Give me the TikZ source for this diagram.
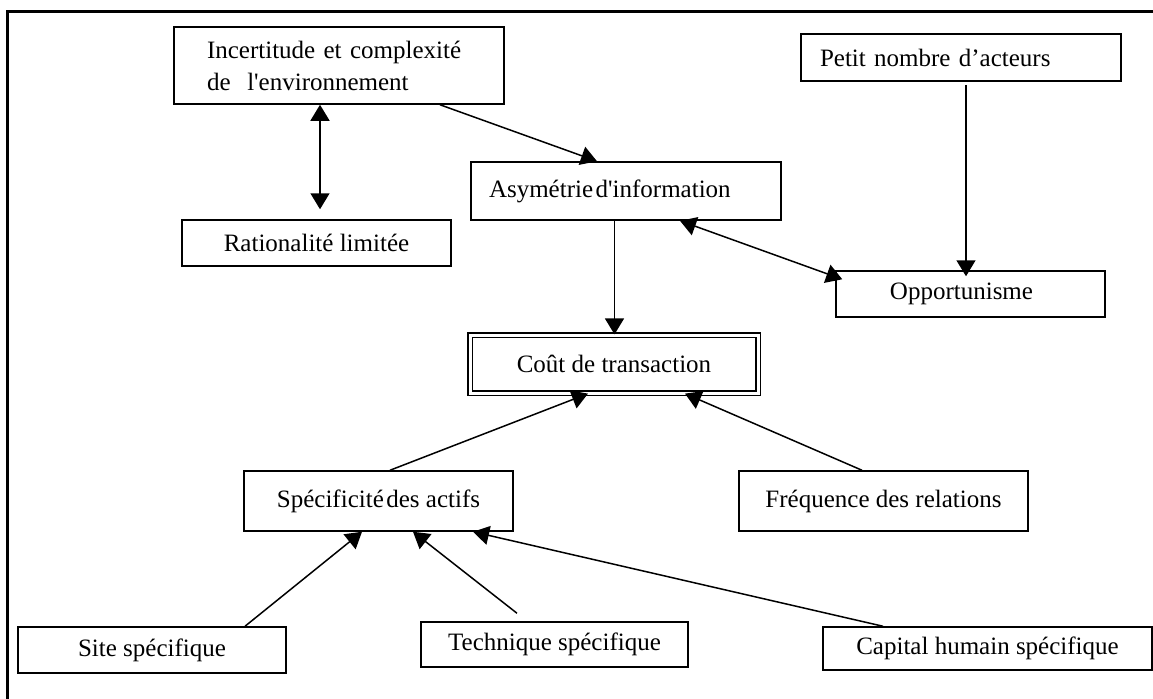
\documentclass[tikz,border=0pt]{standalone}
\usepackage{fontspec}
\setmainfont{Liberation Serif}[Ligatures=TeXOff]
\usetikzlibrary{arrows.meta}
\begin{document}
\begin{tikzpicture}[x=0.5pt, y=-0.5pt,
  font=\fontsize{12.5}{16}\selectfont,
  box/.style={draw, line width=0.75pt, inner sep=0pt, align=center},
  lbox/.style={box, align=left},
  tip/.tip={Triangle[length=8pt,width=9.5pt]},
  conn/.style={line width=0.75pt, -tip},
  bconn/.style={line width=0.75pt, tip-tip}]
\useasboundingbox (0,0) rectangle (1153,698);
\clip (0,0) rectangle (1153,698);
% outer frame (top and left edges visible)
\draw[line width=1.5pt] (1160,11) -- (7,11) -- (7,705);

% nodes
\node[lbox, text width=132pt, inner xsep=16.5pt, minimum height=38.5pt] (inc) at (339,65.5)
  {Incertitude et complexité\\de\ \ l'environnement};
\node[box, minimum width=134.5pt, minimum height=23pt] (rat) at (316.5,243) {Rationalité limitée};
\node[lbox, text width=137pt, inner xsep=9pt, minimum height=29pt] (asy) at (626,191)
  {Asymétrie\hspace{0.1em}d'information};
\node[lbox, text width=141pt, inner xsep=9.5pt, minimum height=23.5pt] (pet) at (961,57.5)
  {Petit nombre d’acteurs};
\node[box, minimum width=134.5pt, minimum height=23pt] (opp) at (970.5,294) {\hspace{-9pt}Opportunisme};
\node[box, double, double distance=1.5pt, line width=0.6pt, minimum width=144pt, minimum height=29pt] (cout) at (614,364)
  {Coût de transaction};
\node[box, minimum width=134.5pt, minimum height=30pt] (spe) at (378.5,501)
  {Spécificité\hspace{0.1em}des actifs};
\node[box, minimum width=144.5pt, minimum height=30pt] (fre) at (883.5,501) {Fréquence des relations};
\node[box, minimum width=134pt, minimum height=23pt] (site) at (152,650) {Site spécifique};
\node[box, minimum width=133.5pt, minimum height=22.5pt] (tech) at (554.5,644.5) {Technique spécifique};
\node[box, minimum width=164.5pt, minimum height=21.5pt] (cap) at (987.5,648.5) {Capital humain spécifique};

% connectors
\draw[bconn] ([xshift=-9.5pt]inc.south) -- ([xshift=1.75pt,yshift=5pt]rat.north);
\draw[conn] ([xshift=50.5pt]inc.south) -- ([xshift=-14.5pt]asy.north);
\draw[conn] ([xshift=-5.75pt]asy.south) -- ([xshift=0.25pt]cout.north);
\draw[bconn] ([xshift=27pt]asy.south) -- ([xshift=3.5pt,yshift=-4.5pt]opp.north west);
\draw[conn] ([xshift=2.5pt,yshift=-1.5pt]pet.south) -- ([xshift=-2.25pt,yshift=-3pt]opp.north);
\draw[conn] ([xshift=5.75pt]spe.north) -- ([xshift=-13pt]cout.south);
\draw[conn] ([xshift=-10.75pt]fre.north) -- ([xshift=35.5pt]cout.south);
\draw[conn] ([xshift=46.5pt]site.north) -- ([xshift=-8.25pt]spe.south);
\draw[conn] ([xshift=-18.75pt,yshift=4pt]tech.north) -- ([xshift=17.25pt]spe.south);
\draw[conn] ([xshift=-52.25pt]cap.north) -- ([xshift=47.25pt]spe.south);
\end{tikzpicture}
\end{document}
